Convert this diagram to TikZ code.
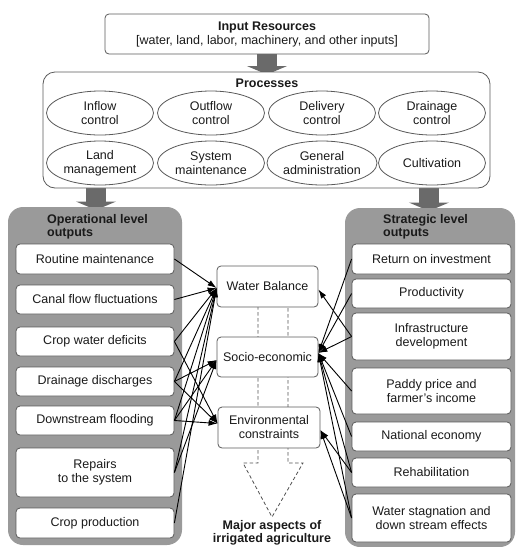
\documentclass[tikz,border=0pt]{standalone}
\usepackage{fontspec}
\setmainfont{Liberation Sans}
\usetikzlibrary{shapes.geometric,arrows.meta}
\definecolor{panelgray}{HTML}{9A9A9A}
\definecolor{arrowgray}{HTML}{6A6A6A}
\definecolor{bordergray}{HTML}{5A5A5A}
\definecolor{txt}{HTML}{1A1A1A}
\begin{document}
\begin{tikzpicture}[x=1pt,y=-1pt,
  every node/.style={font=\fontsize{12.5}{14}\selectfont, text=txt, align=center, inner sep=0pt},
  titletext/.style={font=\fontsize{12.5}{13.5}\selectfont\bfseries},
  outbox/.style={draw=bordergray, line width=0.8pt, fill=white, rounded corners=4pt, minimum width=158pt},
  procell/.style={ellipse, draw=bordergray, line width=0.8pt, fill=white, minimum width=107pt, minimum height=44pt},
  panel/.style={fill=panelgray, rounded corners=15pt},
  blockarrow/.style={draw=arrowgray, line width=20pt, -{Triangle[width=40pt,length=8.5pt]}},
  link/.style={draw=black, line width=0.9pt, -{Latex[length=9pt,width=6pt]}},
  aspect/.style={draw=bordergray, line width=0.8pt, fill=white, rounded corners=4pt, minimum height=41pt},
  guide/.style={draw=bordergray!90!black, line width=0.8pt, dash pattern=on 3.5pt off 2.5pt}]
\useasboundingbox (0,0) rectangle (515,547);

% input
\node[draw=bordergray, line width=0.8pt, fill=white, rounded corners=4pt,
      minimum width=324pt, minimum height=40pt] (input) at (267,34)
      {\textbf{Input Resources}\\{[}water, land, labor, machinery, and other inputs{]}};

% top block arrow
\coordinate (topend) at (267,74.5);
\draw[blockarrow] (input.south) -- (topend);

% arrows from processes to panels (drawn first so tips hide)
\coordinate (lpTop) at (96,210);
\coordinate (rpTop) at (429,211);
\coordinate (lpStart) at (96,188);
\coordinate (rpStart) at (429,188);
\draw[blockarrow] (lpStart) -- (lpTop);
\draw[blockarrow] (rpStart) -- (rpTop);

% processes
\node[draw=bordergray, line width=0.8pt, fill=white, rounded corners=12pt,
      minimum width=447pt, minimum height=116pt] (proc) at (266.5,130) {};
\node[titletext] (proctitle) at (267,83) {Processes};
\node[procell] (p1) at (100,113) {Inflow\\control};
\node[procell] (p2) at (211,113) {Outflow\\control};
\node[procell] (p3) at (322,113) {Delivery\\control};
\node[procell] (p4) at (432,113) {Drainage\\control};
\node[procell] (p5) at (100,163) {Land\\management};
\node[procell] (p6) at (211,163) {System\\maintenance};
\node[procell] (p7) at (322,163) {General\\administration};
\node[procell] (p8) at (432,163) {Cultivation};

% panels
\node[panel, minimum width=174pt, minimum height=338pt] (lpanel) at (95,376) {};
\node[panel, minimum width=170pt, minimum height=339pt] (rpanel) at (430,377.5) {};
\node[titletext, anchor=west, align=left] (ltitle) at (47,227) {Operational level\\outputs};
\node[titletext, anchor=west, align=left] (rtitle) at (383,227) {Strategic level\\outputs};

% left boxes
\node[outbox, minimum height=30pt] (lb1) at (95,259) {Routine maintenance};
\node[outbox, minimum height=29pt] (lb2) at (95,299.5) {Canal flow fluctuations};
\node[outbox, minimum height=29pt] (lb3) at (95,341.5) {Crop water deficits};
\node[outbox, minimum height=29pt] (lb4) at (95,381.5) {Drainage discharges};
\node[outbox, minimum height=29pt] (lb5) at (95,420.5) {Downstream flooding};
\node[outbox, minimum height=49pt] (lb6) at (95,472.5) {Repairs\\to the system};
\node[outbox, minimum height=30pt] (lb7) at (95,523) {Crop production};

% right boxes
\node[outbox, minimum width=159pt, minimum height=30pt] (rb1) at (431.5,259) {Return on investment};
\node[outbox, minimum width=159pt, minimum height=29pt] (rb2) at (431.5,293.5) {Productivity};
\node[outbox, minimum width=159pt, minimum height=47pt] (rb3) at (431.5,336.5) {Infrastructure\\development};
\node[outbox, minimum width=159pt, minimum height=46pt] (rb4) at (431.5,391) {Paddy price and\\farmer's income};
\node[outbox, minimum width=159pt, minimum height=29pt] (rb5) at (431.5,436.5) {National economy};
\node[outbox, minimum width=159pt, minimum height=29pt] (rb6) at (431.5,472.5) {Rehabilitation};
\node[outbox, minimum width=159pt, minimum height=48pt] (rb7) at (431.5,518) {Water stagnation and\\down stream effects};

% dashed guide outline
\coordinate (g1) at (258,300);
\coordinate (g2) at (258,463);
\coordinate (g3) at (243,463);
\coordinate (gtip) at (272,517);
\coordinate (g4) at (303,463);
\coordinate (g5) at (288,463);
\coordinate (g6) at (288,300);
\draw[guide] (g1) -- (g2) -- (g3) -- (gtip) -- (g4) -- (g5) -- (g6);

% aspects
\node[aspect, minimum width=101pt] (wb) at (267.5,286.5) {Water Balance};
\node[aspect, minimum width=101pt, minimum height=40pt] (soc) at (267.5,357) {Socio-economic};
\node[aspect, minimum width=102pt] (env) at (269,427.5) {Environmental\\constraints};
\node[titletext] (major) at (272,533) {Major aspects of\\irrigated agriculture};

% link end points
\coordinate (wbL) at ([yshift=-1.5pt]wb.west);
\coordinate (socL) at ([yshift=-3pt]soc.west);
\coordinate (envL) at ([yshift=4pt]env.west);
\coordinate (wbR) at ([yshift=-3pt]wb.east);
\coordinate (socR) at ([yshift=4pt]soc.east);
\coordinate (envR) at ([yshift=-2.5pt]env.east);

% left links
\foreach \b in {lb1,lb2,lb3,lb4,lb5,lb6,lb7} \draw[link] (\b.east) -- (wbL);
\foreach \b in {lb4,lb5,lb6} \draw[link] (\b.east) -- (socL);
\foreach \b in {lb3,lb4,lb5} \draw[link] (\b.east) -- (envL);

% right links
\draw[link] (rb3.west) -- (wbR);
\foreach \b in {rb1,rb2,rb3,rb4,rb5,rb6,rb7} \draw[link] (\b.west) -- (socR);
\foreach \b in {rb6,rb7} \draw[link] (\b.west) -- (envR);
\end{tikzpicture}
\end{document}
